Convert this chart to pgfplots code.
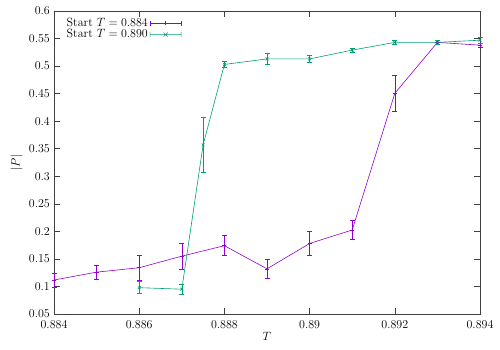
\documentclass[12pt,border=0pt]{standalone}
\usepackage{pgfplots}
\pgfplotsset{compat=1.18}
\definecolor{gpviolet}{HTML}{9400D3}
\definecolor{gpteal}{HTML}{009E73}

\begin{document}
\begin{tikzpicture}
\useasboundingbox (0pt,0pt) rectangle (500pt,350pt);
\begin{axis}[at={(54pt,36pt)},anchor=south west,scale only axis,
 width=426pt,height=303pt,
 xmin=0.884,xmax=0.894,ymin=0.05,ymax=0.6,
 xtick={0.884,0.886,...,0.894},ytick={0.05,0.1,...,0.61},
 xticklabels={0.884,0.886,0.888,0.89,0.892,0.894},
 yticklabels={0.05,0.1,0.15,0.2,0.25,0.3,0.35,0.4,0.45,0.5,0.55,0.6},
 xticklabel style={yshift=-2pt},
 tick align=inside,major tick length=6pt,
 axis line style={black!75,line width=0.7pt},tick style={black!75,line width=0.6pt},
 xlabel={$T$},ylabel={$|P|$},
 xlabel style={yshift=4pt},ylabel style={yshift=-2pt},
 unbounded coords=jump,
 legend cell align=right,legend plot pos=right,
 legend style={at={(0.02,0.99)},anchor=north west,draw=none,fill=none,
   row sep=-3pt,inner sep=2pt}]
% start T = 0.884
\addplot[gpviolet,line width=0.6pt,mark=+,mark size=2pt,
  legend image code/.code={
   \draw[gpviolet,line width=0.6pt] (4pt,0pt) -- (35pt,0pt)
     (4pt,-2.5pt) -- (4pt,2.5pt) (35pt,-2.5pt) -- (35pt,2.5pt)
     (17.5pt,0pt) -- (21.5pt,0pt) (19.5pt,-2pt) -- (19.5pt,2pt);
  }]
 table {
 0.884  0.1117
 0.885  0.126
 0.886  0.134
 0.887  0.155
 0.888  0.174
 0.889  0.132
 0.890  0.178
 0.891  0.2025
 0.892  0.4505
 0.893  0.543
 0.894  0.538
 };
\addlegendentry{Start $T=0.884$}
% its error bars, low and high ends
\addplot[forget plot,gpviolet,line width=0.6pt,mark=-,mark size=2.5pt]
 table {
 0.884 0.0987
 0.884 0.1247
 nan nan
 0.885 0.113
 0.885 0.139
 nan nan
 0.886 0.112
 0.886 0.156
 nan nan
 0.887 0.131
 0.887 0.179
 nan nan
 0.888 0.156
 0.888 0.192
 nan nan
 0.889 0.114
 0.889 0.150
 nan nan
 0.890 0.156
 0.890 0.200
 nan nan
 0.891 0.1855
 0.891 0.2195
 nan nan
 0.892 0.4185
 0.892 0.4825
 nan nan
 0.893 0.540
 0.893 0.546
 nan nan
 0.894 0.534
 0.894 0.542
 };
% start T = 0.890
\addplot[gpteal,line width=0.6pt,mark=x,mark size=2pt,
  legend image code/.code={
   \draw[gpteal,line width=0.6pt] (4pt,0pt) -- (35pt,0pt)
     (4pt,-2.5pt) -- (4pt,2.5pt) (35pt,-2.5pt) -- (35pt,2.5pt)
     (17.5pt,-2pt) -- (21.5pt,2pt) (17.5pt,2pt) -- (21.5pt,-2pt);
  }]
 table {
 0.886  0.0978
 0.887  0.095
 0.8875 0.357
 0.888  0.503
 0.889  0.513
 0.890  0.513
 0.891  0.529
 0.892  0.543
 0.893  0.543
 0.894  0.547
 };
\addlegendentry{Start $T=0.890$}
\addplot[forget plot,gpteal,line width=0.6pt,mark=-,mark size=2.5pt]
 table {
 0.886 0.0868
 0.886 0.1088
 nan nan
 0.887 0.086
 0.887 0.104
 nan nan
 0.8875 0.307
 0.8875 0.407
 nan nan
 0.888 0.498
 0.888 0.508
 nan nan
 0.889 0.503
 0.889 0.523
 nan nan
 0.890 0.506
 0.890 0.520
 nan nan
 0.891 0.525
 0.891 0.533
 nan nan
 0.892 0.540
 0.892 0.546
 nan nan
 0.893 0.540
 0.893 0.546
 nan nan
 0.894 0.542
 0.894 0.552
 };
\end{axis}
\end{tikzpicture}
\end{document}
